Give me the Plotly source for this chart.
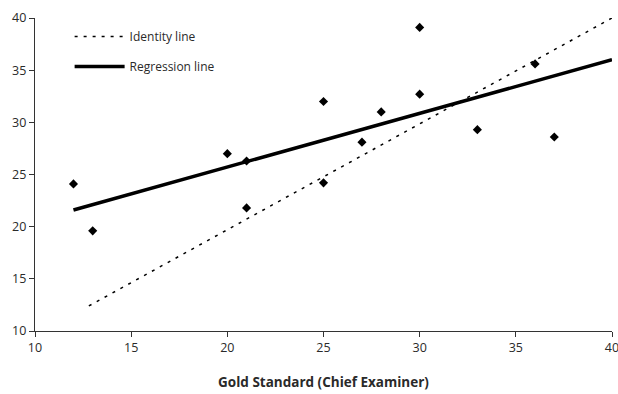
import plotly.graph_objects as go

# Data
gold_x = [12, 13, 20, 21, 21, 25, 25, 27, 28, 30, 30, 33, 36, 37]
rater_y = [24.1, 19.6, 27.0, 26.3, 21.8, 32.0, 24.2, 28.1, 31.0, 39.1, 32.7, 29.3, 35.6, 28.6]

identity_x = [12.8, 40]
identity_y = [12.4, 40]

regression_x = [12, 40]
regression_y = [21.6, 36.0]

x_ticks = [10, 15, 20, 25, 30, 35, 40]
y_ticks = [10, 15, 20, 25, 30, 35, 40]

FONT = "Open Sans"
TXT = "#2a2a2a"

fig = go.Figure()

fig.add_trace(go.Scatter(
    x=identity_x, y=identity_y, mode="lines", name="Identity line",
    line=dict(color="black", width=1.5, dash="3px,6px"),
    legendgroup="a",
))
fig.add_trace(go.Scatter(
    x=regression_x, y=regression_y, mode="lines", name="Regression line",
    line=dict(color="black", width=3.5),
    legendgroup="b",
))
fig.add_trace(go.Scatter(
    x=gold_x, y=rater_y, mode="markers", showlegend=False,
    marker=dict(symbol="diamond", size=7, color="black"),
))

fig.update_layout(
    width=618, height=394,
    margin=dict(l=35, r=6, t=18, b=63, autoexpand=False),
    paper_bgcolor="white", plot_bgcolor="white",
    font=dict(family=FONT, size=12.5, color=TXT),
    showlegend=True,
    legend=dict(
        x=0.06, y=0.987, xanchor="left", yanchor="top",
        bgcolor="rgba(0,0,0,0)", font=dict(size=12, color=TXT),
        traceorder="grouped", tracegroupgap=11, itemwidth=50,
    ),
    xaxis=dict(
        range=[10, 40], tickvals=x_ticks, ticktext=[str(v) for v in x_ticks],
        showgrid=False, zeroline=False, showline=True, linecolor="#333", linewidth=1.2,
        ticks="outside", ticklen=5, tickcolor="#333", ticklabeloverflow="allow",
        automargin=False,
        title=dict(text="<b>Gold Standard (Chief Examiner)</b>", font=dict(size=13.5, color=TXT), standoff=22),
    ),
    yaxis=dict(
        range=[10, 40], tickvals=y_ticks, ticktext=[str(v) for v in y_ticks],
        showgrid=False, zeroline=False, showline=True, linecolor="#333", linewidth=1.2,
        ticks="outside", ticklen=5, tickcolor="#333", automargin=False,
    ),
)

fig.write_html("out.html")
